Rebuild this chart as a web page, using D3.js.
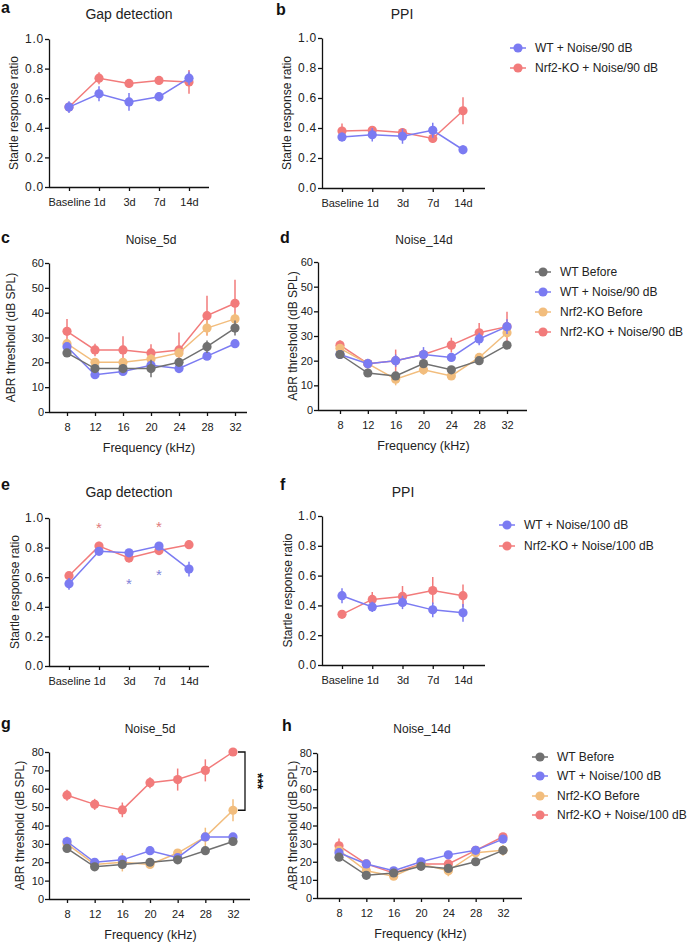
<!DOCTYPE html>
<html>
<head>
<meta charset="utf-8">
<script src="https://cdn.jsdelivr.net/npm/d3@7"></script>
<style>
    body { margin: 0; background: #fff; }
    svg { font-family: Arial, "Liberation Sans", Helvetica, sans-serif; }
    .axis path, .axis line { stroke: #111; stroke-width: 1.3; }
    .axis text { font-size: 11px; fill: #222; }
    .yratio text { font-size: 12px; letter-spacing: 0.8px; }
    .title { font-size: 14px; fill: #222; }
    .title.small { font-size: 12px; }
    .label { font-size: 12px; fill: #222; }
    .letter { font-size: 16px; font-weight: bold; fill: #111; }
    .legend text { font-size: 12px; fill: #222; }
</style>
</head>
<body>
<svg id="fig" width="689" height="944"></svg>
<script>
// ---- data ----
const dayLabels = ['Baseline', '1d', '3d', '7d', '14d'];
const freqs = [8, 12, 16, 20, 24, 28, 32];
const ratioTicks = [0, 0.2, 0.4, 0.6, 0.8, 1.0];
const abrTicks60 = [0, 10, 20, 30, 40, 50, 60];
const abrTicks80 = [0, 10, 20, 30, 40, 50, 60, 70, 80];

// a: gap detection, 90 dB
const gapWT90 = [0.54, 0.63, 0.575, 0.61, 0.735];
const gapWT90Err = [0.04, 0.05, 0.06, 0.03, 0.045];
const gapKO90 = [0.54, 0.735, 0.70, 0.72, 0.71];
const gapKO90Err = [0.03, 0.04, 0.03, 0.015, 0.08];

// b: PPI, 90 dB
const ppiWT90 = [0.34, 0.355, 0.345, 0.385, 0.255];
const ppiWT90Err = [0.03, 0.045, 0.05, 0.05, 0.03];
const ppiKO90 = [0.38, 0.385, 0.37, 0.33, 0.515];
const ppiKO90Err = [0.05, 0.025, 0.03, 0.03, 0.09];

// c: ABR Noise_5d, 90 dB
const c5WtBefore = [23.8, 17.5, 17.5, 17.5, 20, 26.3, 33.8];
const c5WtBeforeErr = [1.5, 1.5, 1.5, 3.5, 1.5, 2.5, 3];
const c5WtNoise = [26.3, 15, 16.3, 18.8, 17.5, 22.5, 27.5];
const c5WtNoiseErr = [1.5, 1, 1, 1.5, 1, 1, 1.5];
const c5KoBefore = [27.5, 20, 20, 21.3, 23.8, 33.8, 37.5];
const c5KoBeforeErr = [2, 1.5, 1.5, 2, 1.5, 3, 2.5];
const c5KoNoise = [32.5, 25, 25, 23.8, 25, 38.8, 43.8];
const c5KoNoiseErr = [5, 2.5, 5.5, 3.5, 7, 8, 9.5];

// d: ABR Noise_14d, 90 dB
const d14WtBefore = [22.5, 15, 13.8, 18.8, 16.3, 20, 26.3];
const d14WtBeforeErr = [1.5, 1, 1.5, 1.5, 1, 1.5, 1];
const d14WtNoise = [22.5, 18.8, 20, 22.5, 21.3, 28.8, 33.8];
const d14WtNoiseErr = [1, 2, 2.5, 3, 1.5, 2.5, 3];
const d14KoBefore = [25, 18.8, 12.5, 16.3, 13.8, 21.3, 31.3];
const d14KoBeforeErr = [1.5, 1, 2.5, 2, 1.5, 1.5, 2];
const d14KoNoise = [26.3, 18.8, 20, 22.5, 26.3, 31.3, 33.8];
const d14KoNoiseErr = [2, 1.5, 4.5, 2, 3, 4, 6];

// e: gap detection, 100 dB
const gapWT100 = [0.555, 0.775, 0.765, 0.81, 0.655];
const gapWT100Err = [0.04, 0.02, 0.015, 0.02, 0.05];
const gapKO100 = [0.61, 0.81, 0.73, 0.78, 0.82];
const gapKO100Err = [0.015, 0.03, 0.03, 0.03, 0.03];
const gapStarsKO = [{ day: '1d', y: 0.96 }, { day: '7d', y: 0.965 }];
const gapStarsWT = [{ day: '3d', y: 0.58 }, { day: '7d', y: 0.645 }];

// f: PPI, 100 dB
const ppiWT100 = [0.465, 0.39, 0.42, 0.37, 0.35];
const ppiWT100Err = [0.05, 0.035, 0.045, 0.05, 0.06];
const ppiKO100 = [0.34, 0.44, 0.46, 0.50, 0.465];
const ppiKO100Err = [0.01, 0.05, 0.07, 0.09, 0.075];

// g: ABR Noise_5d, 100 dB
const g5WtBefore = [27.5, 17.5, 18.8, 20, 21.3, 26.3, 31.3];
const g5WtBeforeErr = [1, 1, 1, 1, 1, 1, 1.5];
const g5WtNoise = [31.3, 20, 21.3, 26.3, 22.5, 33.8, 33.8];
const g5WtNoiseErr = [2, 1, 1, 1.5, 1, 1.5, 1];
const g5KoBefore = [30, 18.8, 20, 18.8, 25, 33.8, 48.3];
const g5KoBeforeErr = [4, 1, 5, 1.5, 2, 5, 6];
const g5KoNoise = [56.5, 51.5, 48.5, 63.3, 65, 70, 80];
const g5KoNoiseErr = [3, 3, 4, 3, 6, 6, 1];
const gSigRange = [48.3, 80];

// h: ABR Noise_14d, 100 dB
const h14WtBefore = [22.5, 12.5, 13.8, 17.5, 16.3, 20, 26.3];
const h14WtBeforeErr = [1, 1, 1, 1, 1, 1, 1];
const h14WtNoise = [25, 18.8, 15, 20, 23.8, 26.3, 32.5];
const h14WtNoiseErr = [1, 1.5, 1, 1, 1, 1, 1.5];
const h14KoBefore = [26.3, 15, 12, 18.8, 15, 25, 26.3];
const h14KoBeforeErr = [2, 2, 1.5, 2, 3, 2, 3];
const h14KoNoise = [28.8, 18.8, 13.8, 18.8, 18.8, 26.3, 33.8];
const h14KoNoiseErr = [4, 1.5, 1, 1.5, 1.5, 1, 1];

const grey = '#707070';
const blue = '#7b7bf2';
const yellow = '#f2bd7d';
const red = '#f27b7b';

let svg = d3.select('svg#fig');

function translate(x, y) {
    return 'translate(' + String(x) + ',' + String(y) + ')';
}

/**
 * Draw one panel: axes, lines, error bars and dots.
 */
function drawPanel(p) {
    let g = svg.append('g');

    let x;
    if (p.kind === 'days') {
        x = d3.scalePoint().domain(dayLabels).range([p.left + p.padL, p.right - p.padR]);
    } else {
        x = d3.scaleLinear().domain([8, 32]).range([p.left + p.padL, p.right - p.padR]);
    }
    let xs = p.kind === 'days' ? dayLabels : freqs;
    let y = d3.scaleLinear().domain([0, p.ymax]).range([p.bottom, p.top]);

    let yAxis = d3.axisLeft(y)
        .tickValues(p.yticks)
        .tickSize(4)
        .tickSizeOuter(0)
        .tickPadding(1)
        .tickFormat(p.yfmt);
    g.append('g')
        .attr('class', p.kind === 'days' ? 'axis yratio' : 'axis')
        .attr('transform', translate(p.left, 0))
        .call(yAxis);

    let xAxis = d3.axisBottom(x).tickSize(4).tickPadding(7);
    if (p.kind !== 'days') xAxis.tickValues(freqs).tickFormat(d3.format('d'));
    let xg = g.append('g').attr('class', 'axis').attr('transform', translate(0, p.bottom)).call(xAxis);
    xg.select('.domain').remove();
    xg.append('line')
        .attr('x1', p.left).attr('x2', p.right)
        .attr('y1', 0.5).attr('y2', 0.5);

    // series, back to front
    let line = d3.line().x((d, i) => x(xs[i])).y(d => y(d));
    p.series.forEach(function(s) {
        let sg = g.append('g');
        sg.append('path')
            .attr('d', line(s.values))
            .attr('fill', 'none')
            .attr('stroke', s.color)
            .attr('stroke-width', 1.5);
        sg.selectAll('line.err')
            .data(s.values)
            .enter()
            .append('line')
            .attr('class', 'err')
            .attr('x1', (d, i) => x(xs[i]))
            .attr('x2', (d, i) => x(xs[i]))
            .attr('y1', (d, i) => y(d - s.err[i]))
            .attr('y2', (d, i) => y(d + s.err[i]))
            .attr('stroke', s.color)
            .attr('stroke-width', 1.5);
        sg.selectAll('circle')
            .data(s.values)
            .enter()
            .append('circle')
            .attr('cx', (d, i) => x(xs[i]))
            .attr('cy', d => y(d))
            .attr('r', 4.6)
            .attr('fill', s.color);
    });

    // texts
    svg.append('text').attr('class', 'letter').attr('x', p.letterX).attr('y', p.letterY).text(p.letter);
    svg.append('text').attr('class', p.smallTitle ? 'title small' : 'title')
        .attr('x', p.titleX).attr('y', p.titleY)
        .attr('text-anchor', 'middle').text(p.title);
    svg.append('text').attr('class', 'label')
        .attr('transform', translate(p.ylabX, (p.top + p.bottom) / 2) + ' rotate(-90)')
        .attr('text-anchor', 'middle').text(p.ylabel);
    if (p.xlabel) {
        svg.append('text').attr('class', 'label')
            .style('font-size', '12.5px')
            .attr('x', (p.left + p.right) / 2 + 1).attr('y', p.bottom + 40)
            .attr('text-anchor', 'middle').text(p.xlabel);
    }

    return { g: g, x: x, y: y };
}

/**
 * Draw a legend with line + dot markers.
 */
function drawLegend(mx, ys, names, cols) {
    let lg = svg.append('g').attr('class', 'legend');
    names.forEach(function(name, i) {
        lg.append('line')
            .attr('x1', mx - 8).attr('x2', mx + 8)
            .attr('y1', ys[i]).attr('y2', ys[i])
            .attr('stroke', cols[i]).attr('stroke-width', 1.5);
        lg.append('circle').attr('cx', mx).attr('cy', ys[i]).attr('r', 4.6).attr('fill', cols[i]);
        lg.append('text').attr('x', mx + 17).attr('y', ys[i] + 4.3).text(name);
    });
}

let ratioFmt = d3.format('.1f');
let intFmt = d3.format('d');

// a
drawPanel({
    kind: 'days', left: 49, right: 209, top: 39, bottom: 187, padL: 20, padR: 20,
    ymax: 1, yticks: ratioTicks, yfmt: ratioFmt,
    series: [
        { values: gapKO90, err: gapKO90Err, color: red },
        { values: gapWT90, err: gapWT90Err, color: blue }
    ],
    letter: 'a', letterX: 1, letterY: 13,
    title: 'Gap detection', titleX: 129, titleY: 19,
    ylabel: 'Startle response ratio', ylabX: 18
});

// b
drawPanel({
    kind: 'days', left: 322, right: 485, top: 38, bottom: 188, padL: 20, padR: 22,
    ymax: 1, yticks: ratioTicks, yfmt: ratioFmt,
    series: [
        { values: ppiKO90, err: ppiKO90Err, color: red },
        { values: ppiWT90, err: ppiWT90Err, color: blue }
    ],
    letter: 'b', letterX: 276, letterY: 15,
    title: 'PPI', titleX: 402, titleY: 19,
    ylabel: 'Startle response ratio', ylabX: 291
});
drawLegend(518, [48, 68], ['WT + Noise/90 dB', 'Nrf2-KO + Noise/90 dB'], [blue, red]);

// c
drawPanel({
    kind: 'freq', left: 49, right: 247, top: 263, bottom: 412, padL: 18, padR: 12,
    ymax: 60, yticks: abrTicks60, yfmt: intFmt,
    series: [
        { values: c5KoNoise, err: c5KoNoiseErr, color: red },
        { values: c5KoBefore, err: c5KoBeforeErr, color: yellow },
        { values: c5WtNoise, err: c5WtNoiseErr, color: blue },
        { values: c5WtBefore, err: c5WtBeforeErr, color: grey }
    ],
    letter: 'c', letterX: 1, letterY: 243,
    title: 'Noise_5d', titleX: 151, titleY: 244, smallTitle: true,
    ylabel: 'ABR threshold (dB SPL)', ylabX: 15, xlabel: 'Frequency (kHz)'
});

// d
drawPanel({
    kind: 'freq', left: 318, right: 527, top: 262, bottom: 410, padL: 22, padR: 20,
    ymax: 60, yticks: abrTicks60, yfmt: intFmt,
    series: [
        { values: d14KoNoise, err: d14KoNoiseErr, color: red },
        { values: d14KoBefore, err: d14KoBeforeErr, color: yellow },
        { values: d14WtNoise, err: d14WtNoiseErr, color: blue },
        { values: d14WtBefore, err: d14WtBeforeErr, color: grey }
    ],
    letter: 'd', letterX: 280, letterY: 243,
    title: 'Noise_14d', titleX: 424, titleY: 244, smallTitle: true,
    ylabel: 'ABR threshold (dB SPL)', ylabX: 297, xlabel: 'Frequency (kHz)'
});
drawLegend(543, [272, 292, 312, 332],
    ['WT Before', 'WT + Noise/90 dB', 'Nrf2-KO Before', 'Nrf2-KO + Noise/90 dB'],
    [grey, blue, yellow, red]);

// e
let pe = drawPanel({
    kind: 'days', left: 49, right: 209, top: 518, bottom: 666, padL: 20, padR: 20,
    ymax: 1, yticks: ratioTicks, yfmt: ratioFmt,
    series: [
        { values: gapKO100, err: gapKO100Err, color: red },
        { values: gapWT100, err: gapWT100Err, color: blue }
    ],
    letter: 'e', letterX: 1, letterY: 490,
    title: 'Gap detection', titleX: 129, titleY: 497,
    ylabel: 'Startle response ratio', ylabX: 19
});
// significance stars
[[gapStarsKO, '#e07a7a'], [gapStarsWT, '#7f7fd8']].forEach(function(pair) {
    pe.g.selectAll(null)
        .data(pair[0])
        .enter()
        .append('text')
        .attr('x', d => pe.x(d.day))
        .attr('y', d => pe.y(d.y))
        .attr('dy', '0.6em')
        .attr('text-anchor', 'middle')
        .style('font-size', '15px')
        .style('fill', pair[1])
        .text('*');
});

// f
drawPanel({
    kind: 'days', left: 322, right: 485, top: 516, bottom: 665, padL: 20, padR: 22,
    ymax: 1, yticks: ratioTicks, yfmt: ratioFmt,
    series: [
        { values: ppiKO100, err: ppiKO100Err, color: red },
        { values: ppiWT100, err: ppiWT100Err, color: blue }
    ],
    letter: 'f', letterX: 280, letterY: 490,
    title: 'PPI', titleX: 403, titleY: 497,
    ylabel: 'Startle response ratio', ylabX: 292
});
drawLegend(507, [525, 546], ['WT + Noise/100 dB', 'Nrf2-KO + Noise/100 dB'], [blue, red]);

// g
let pg = drawPanel({
    kind: 'freq', left: 49, right: 250, top: 752, bottom: 899, padL: 18, padR: 17,
    ymax: 80, yticks: abrTicks80, yfmt: intFmt,
    series: [
        { values: g5KoNoise, err: g5KoNoiseErr, color: red },
        { values: g5KoBefore, err: g5KoBeforeErr, color: yellow },
        { values: g5WtNoise, err: g5WtNoiseErr, color: blue },
        { values: g5WtBefore, err: g5WtBeforeErr, color: grey }
    ],
    letter: 'g', letterX: 1, letterY: 729,
    title: 'Noise_5d', titleX: 150, titleY: 733, smallTitle: true,
    ylabel: 'ABR threshold (dB SPL)', ylabX: 24, xlabel: 'Frequency (kHz)'
});
// bracket + ***
let by0 = pg.y(gSigRange[1]);
let by1 = pg.y(gSigRange[0]);
svg.append('path')
    .attr('d', 'M238,' + by0 + 'H245V' + by1 + 'H238')
    .attr('fill', 'none').attr('stroke', '#111').attr('stroke-width', 1.3);
svg.append('text')
    .attr('transform', translate(253, (by0 + by1) / 2) + ' rotate(90)')
    .attr('text-anchor', 'middle')
    .style('font-size', '14px').style('font-weight', 'bold').style('fill', '#111')
    .text('***');

// h
drawPanel({
    kind: 'freq', left: 317, right: 522, top: 753, bottom: 898, padL: 22, padR: 19,
    ymax: 80, yticks: abrTicks80, yfmt: intFmt,
    series: [
        { values: h14KoNoise, err: h14KoNoiseErr, color: red },
        { values: h14KoBefore, err: h14KoBeforeErr, color: yellow },
        { values: h14WtNoise, err: h14WtNoiseErr, color: blue },
        { values: h14WtBefore, err: h14WtBeforeErr, color: grey }
    ],
    letter: 'h', letterX: 282, letterY: 731,
    title: 'Noise_14d', titleX: 422, titleY: 733, smallTitle: true,
    ylabel: 'ABR threshold (dB SPL)', ylabX: 297, xlabel: 'Frequency (kHz)'
});
drawLegend(540, [757, 776, 796, 815],
    ['WT Before', 'WT + Noise/100 dB', 'Nrf2-KO Before', 'Nrf2-KO + Noise/100 dB'],
    [grey, blue, yellow, red]);
</script>
</body>
</html>
